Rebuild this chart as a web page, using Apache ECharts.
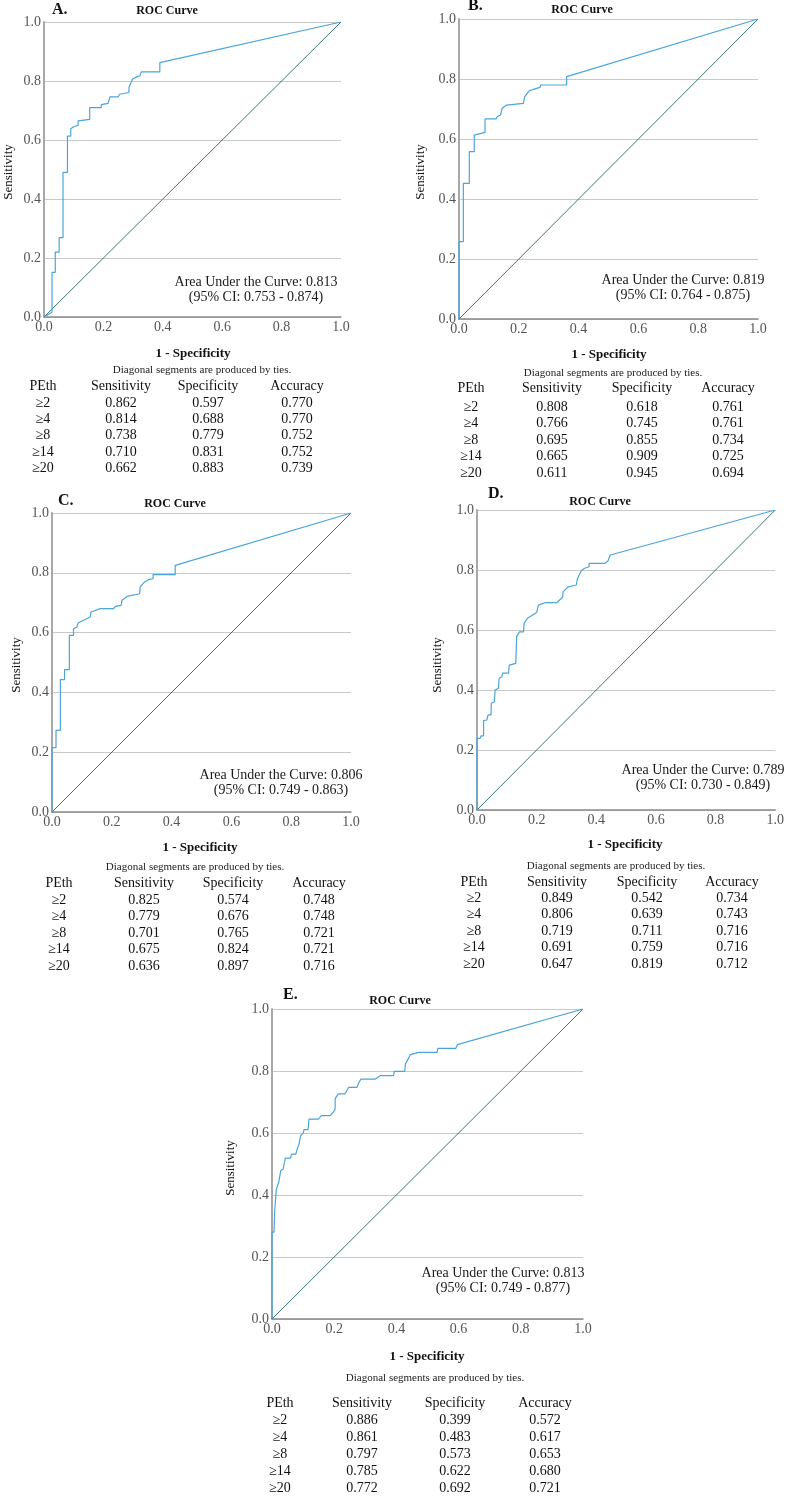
<!DOCTYPE html>
<html>
<head>
<meta charset="utf-8">
<script src="https://cdn.jsdelivr.net/npm/echarts@6/dist/echarts.min.js"></script>
<style>
html,body{margin:0;padding:0;background:#fff;}
#chart{width:787px;height:1496px;}
</style>
</head>
<body>
<div id="chart"></div>
<script>
// ---------------- DATA ----------------
const panelLabels = ['A.', 'B.', 'C.', 'D.', 'E.'];
const tableHeader = ['PEth', 'Sensitivity', 'Specificity', 'Accuracy'];
const thresholds = ['≥2', '≥4', '≥8', '≥14', '≥20'];

// ROC curve vertices [1 - specificity, sensitivity]
const rocA = [[0,0],[0.027,0.016],[0.027,0.151],[0.038,0.151],[0.038,0.220],[0.051,0.220],[0.051,0.269],[0.064,0.269],[0.064,0.490],[0.079,0.490],[0.079,0.613],[0.090,0.613],[0.090,0.638],[0.100,0.645],[0.100,0.650],[0.115,0.650],[0.115,0.665],[0.154,0.670],[0.154,0.710],[0.193,0.710],[0.193,0.720],[0.216,0.724],[0.222,0.746],[0.250,0.746],[0.255,0.755],[0.286,0.761],[0.286,0.778],[0.298,0.807],[0.312,0.814],[0.323,0.818],[0.328,0.831],[0.390,0.831],[0.390,0.862],[1,1]];
const rocB = [[0,0],[0,0.258],[0.0145,0.258],[0.0145,0.452],[0.0345,0.452],[0.0345,0.558],[0.051,0.558],[0.051,0.613],[0.087,0.622],[0.087,0.667],[0.124,0.667],[0.128,0.674],[0.139,0.680],[0.144,0.702],[0.159,0.713],[0.215,0.719],[0.220,0.741],[0.235,0.761],[0.254,0.767],[0.271,0.772],[0.273,0.780],[0.360,0.780],[0.360,0.808],[1,1]];
const rocC = [[0,0],[0,0.215],[0.0134,0.215],[0.0134,0.273],[0.028,0.273],[0.028,0.443],[0.042,0.443],[0.042,0.476],[0.058,0.476],[0.058,0.591],[0.072,0.591],[0.072,0.613],[0.084,0.619],[0.087,0.632],[0.128,0.652],[0.130,0.669],[0.162,0.680],[0.206,0.680],[0.212,0.688],[0.231,0.691],[0.234,0.708],[0.251,0.721],[0.293,0.730],[0.295,0.753],[0.309,0.769],[0.323,0.777],[0.338,0.780],[0.338,0.794],[0.412,0.794],[0.412,0.825],[1,1]];
const rocD = [[0,0],[0,0.239],[0.011,0.239],[0.0133,0.247],[0.022,0.247],[0.022,0.298],[0.033,0.300],[0.037,0.317],[0.047,0.317],[0.048,0.356],[0.058,0.361],[0.061,0.400],[0.072,0.406],[0.074,0.439],[0.083,0.444],[0.086,0.456],[0.106,0.456],[0.108,0.483],[0.130,0.489],[0.133,0.578],[0.142,0.594],[0.156,0.594],[0.158,0.622],[0.169,0.639],[0.200,0.658],[0.206,0.683],[0.228,0.691],[0.267,0.691],[0.287,0.709],[0.289,0.728],[0.306,0.744],[0.333,0.750],[0.337,0.772],[0.350,0.798],[0.361,0.806],[0.376,0.811],[0.376,0.822],[0.428,0.822],[0.439,0.830],[0.447,0.850],[1,1]];
const rocE = [[0,0],[0,0.280],[0.0065,0.280],[0.0086,0.349],[0.014,0.419],[0.019,0.419],[0.0216,0.441],[0.027,0.441],[0.028,0.478],[0.036,0.484],[0.039,0.500],[0.043,0.519],[0.060,0.519],[0.0625,0.532],[0.0765,0.532],[0.081,0.548],[0.087,0.565],[0.092,0.591],[0.100,0.599],[0.103,0.611],[0.116,0.611],[0.119,0.645],[0.149,0.645],[0.159,0.656],[0.186,0.656],[0.197,0.667],[0.203,0.677],[0.203,0.710],[0.213,0.726],[0.235,0.726],[0.246,0.747],[0.273,0.747],[0.278,0.760],[0.286,0.774],[0.332,0.774],[0.348,0.785],[0.391,0.785],[0.393,0.799],[0.427,0.799],[0.429,0.823],[0.438,0.839],[0.445,0.853],[0.472,0.860],[0.531,0.860],[0.533,0.873],[0.591,0.873],[0.596,0.885],[1,1]];
const diagonal = [[0,0],[1,1]];

const aucValues = ['0.813', '0.819', '0.806', '0.789', '0.813'];
const ciLow = ['0.753', '0.764', '0.749', '0.730', '0.749'];
const ciHigh = ['0.874', '0.875', '0.863', '0.849', '0.877'];

const sensA = ['0.862','0.814','0.738','0.710','0.662'];
const specA = ['0.597','0.688','0.779','0.831','0.883'];
const accA  = ['0.770','0.770','0.752','0.752','0.739'];
const sensB = ['0.808','0.766','0.695','0.665','0.611'];
const specB = ['0.618','0.745','0.855','0.909','0.945'];
const accB  = ['0.761','0.761','0.734','0.725','0.694'];
const sensC = ['0.825','0.779','0.701','0.675','0.636'];
const specC = ['0.574','0.676','0.765','0.824','0.897'];
const accC  = ['0.748','0.748','0.721','0.721','0.716'];
const sensD = ['0.849','0.806','0.719','0.691','0.647'];
const specD = ['0.542','0.639','0.711','0.759','0.819'];
const accD  = ['0.734','0.743','0.716','0.716','0.712'];
const sensE = ['0.886','0.861','0.797','0.785','0.772'];
const specE = ['0.399','0.483','0.573','0.622','0.692'];
const accE  = ['0.572','0.617','0.653','0.680','0.721'];

const rocCurves = [rocA, rocB, rocC, rocD, rocE];
const sensTables = [sensA, sensB, sensC, sensD, sensE];
const specTables = [specA, specB, specC, specD, specE];
const accTables = [accA, accB, accC, accD, accE];

// ---------------- LAYOUT ----------------
const layout = [
  {grid:[44,22,297,295], label:[52,10], roc:[167,11], ylab:[9,172], auc:[256,282], xname:[193,354], note:[202,370], headerY:386, cols:[43,121,208,297], rowY0:403, dy:16.4},
  {grid:[459,19,299,300], label:[468,6], roc:[582,10], ylab:[421,172], auc:[683,280], xname:[609,355], note:[613,373], headerY:388, cols:[471,552,642,728], rowY0:407, dy:16.5},
  {grid:[52,513,299,299], label:[58,501], roc:[175,504], ylab:[17,665], auc:[281,775], xname:[200,848], note:[195,867], headerY:883, cols:[59,144,233,319], rowY0:900, dy:16.6},
  {grid:[477,510,300,300], label:[488,494], roc:[600,502], ylab:[438,665], auc:[703,770], xname:[625,845], note:[616,866], headerY:882, cols:[474,557,647,732], rowY0:898, dy:16.5},
  {grid:[272,1009,311,310], label:[283,995], roc:[400,1001], ylab:[231,1168], auc:[503,1273], xname:[427,1357], note:[435,1378], headerY:1403, cols:[280,362,455,545], rowY0:1420, dy:17.1}
];

const SERIF = '"Liberation Serif", "Times New Roman", serif';
const CURVE_COLOR = '#4aa5dc';
const DIAG_COLOR = '#3a7676';

function txt(x, y, text, size, opts) {
  opts = opts || {};
  return {
    type: 'text', x: x, y: y,
    rotation: opts.rotation || 0,
    style: {
      text: text,
      font: (opts.bold ? 'bold ' : '') + size + 'px ' + SERIF,
      fill: opts.color || '#111',
      textAlign: opts.align || 'center', align: opts.align || 'center',
      textVerticalAlign: 'middle', verticalAlign: 'middle'
    },
    silent: true
  };
}

const grids = [], xAxes = [], yAxes = [], series = [], graphics = [];
layout.forEach(function (L, i) {
  grids.push({left: L.grid[0], top: L.grid[1], width: L.grid[2], height: L.grid[3], containLabel: false});
  const labelStyle = {formatter: function (v) { return v.toFixed(1); }, color: '#555', fontFamily: SERIF, fontSize: 14};
  xAxes.push({
    type: 'value', gridIndex: i, min: 0, max: 1, interval: 0.2,
    axisLine: {show: true, onZero: false, lineStyle: {color: '#8a8a8a', width: 1.5}},
    axisTick: {show: false},
    axisLabel: Object.assign({margin: 3}, labelStyle),
    splitLine: {show: false}
  });
  yAxes.push({
    type: 'value', gridIndex: i, min: 0, max: 1, interval: 0.2,
    axisLine: {show: true, onZero: false, lineStyle: {color: '#a8a8a8', width: 2}},
    axisTick: {show: false},
    axisLabel: Object.assign({margin: 3}, labelStyle),
    splitLine: {show: true, lineStyle: {color: '#c9c9c9', width: 1}}
  });
  series.push({
    type: 'line', xAxisIndex: i, yAxisIndex: i, data: diagonal, symbol: 'none',
    lineStyle: {color: DIAG_COLOR, width: 1}, silent: true
  });
  series.push({
    type: 'line', xAxisIndex: i, yAxisIndex: i, data: rocCurves[i], symbol: 'none',
    lineStyle: {color: CURVE_COLOR, width: 1.2}, silent: true
  });

  graphics.push(txt(L.label[0], L.label[1], panelLabels[i], 16, {bold: true, align: 'left'}));
  graphics.push(txt(L.roc[0], L.roc[1], 'ROC Curve', 12, {bold: true}));
  graphics.push(txt(L.ylab[0], L.ylab[1], 'Sensitivity', 13, {rotation: Math.PI / 2}));
  graphics.push(txt(L.auc[0], L.auc[1], 'Area Under the Curve: ' + aucValues[i], 14, {color: '#1a1a1a'}));
  graphics.push(txt(L.auc[0], L.auc[1] + 15, '(95% CI: ' + ciLow[i] + ' - ' + ciHigh[i] + ')', 14, {color: '#1a1a1a'}));
  graphics.push(txt(L.xname[0], L.xname[1], '1 - Specificity', 13, {bold: true}));
  graphics.push(txt(L.note[0], L.note[1], 'Diagonal segments are produced by ties.', 11, {color: '#222'}));
  tableHeader.forEach(function (h, c) {
    graphics.push(txt(L.cols[c], L.headerY, h, 14));
  });
  thresholds.forEach(function (t, r) {
    const y = L.rowY0 + r * L.dy;
    graphics.push(txt(L.cols[0], y, t, 14));
    graphics.push(txt(L.cols[1], y, sensTables[i][r], 14));
    graphics.push(txt(L.cols[2], y, specTables[i][r], 14));
    graphics.push(txt(L.cols[3], y, accTables[i][r], 14));
  });
});

const chart = echarts.init(document.getElementById('chart'), null, {renderer: 'canvas'});
chart.setOption({
  animation: false,
  backgroundColor: '#ffffff',
  grid: grids,
  xAxis: xAxes,
  yAxis: yAxes,
  series: series,
  graphic: graphics
});
</script>
</body>
</html>
